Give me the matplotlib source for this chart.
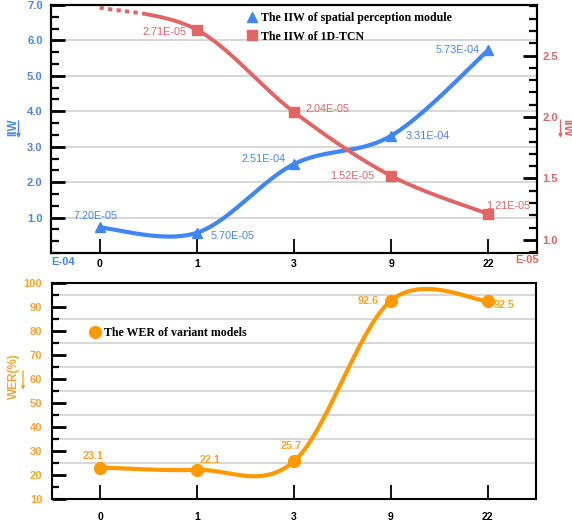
import numpy as np
import matplotlib
matplotlib.use("Agg")
import matplotlib.pyplot as plt
from matplotlib.ticker import MultipleLocator, FixedLocator
from matplotlib.lines import Line2D
from matplotlib.patches import FancyArrowPatch

# ---------------- data ----------------
categories = ["0", "1", "3", "9", "22"]
iiw_spatial = [0.72, 0.57, 2.51, 3.31, 5.73]          # x E-04
iiw_spatial_labels = ["7.20E-05", "5.70E-05", "2.51E-04", "3.31E-04", "5.73E-04"]
iiw_tcn = [2.89, 2.71, 2.04, 1.52, 1.21]               # x E-05 (first point off-scale, no marker)
iiw_tcn_labels = ["", "2.71E-05", "2.04E-05", "1.52E-05", "1.21E-05"]
wer = [23.1, 22.1, 25.7, 92.6, 92.5]
wer_labels = ["23.1", "22.1", "25.7", "92.6", "92.5"]

BLUE = "#4285f4"
BLUE_T = "#4a86e8"
RED = "#e06666"
ORANGE = "#ff9900"
ORANGE_T = "#f7a434"
GRID = "#d4d4d4"

plt.rcParams['font.family'] = ['Liberation Sans', 'DejaVu Sans']
SERIF = ['Liberation Serif', 'DejaVu Serif']

W, H = 572, 524
fig = plt.figure(figsize=(W / 100, H / 100), dpi=100)


def fx(px):
    return px / W


def fy(py):
    return 1 - py / H


def smooth(xs, ys, n=60):
    pts = np.column_stack([xs, ys]).astype(float)
    out = []
    m = len(pts)
    for i in range(m - 1):
        p0 = pts[i - 1] if i > 0 else pts[i]
        p1 = pts[i]
        p2 = pts[i + 1]
        p3 = pts[i + 2] if i + 2 < m else pts[i + 1]
        c1 = p1 + (p2 - p0) / 6
        c2 = p2 - (p3 - p1) / 6
        t = np.linspace(0, 1, n)[:, None]
        seg = (1 - t) ** 3 * p1 + 3 * (1 - t) ** 2 * t * c1 + 3 * (1 - t) * t ** 2 * c2 + t ** 3 * p2
        out.append(seg if i == 0 else seg[1:])
    out = np.vstack(out)
    return out[:, 0], out[:, 1]


def arrow(xp, y0, y1, color):
    fig.add_artist(FancyArrowPatch((fx(xp), fy(y0)), (fx(xp), fy(y1)),
                                   transform=fig.transFigure, arrowstyle='-|>',
                                   mutation_scale=5, color=color, lw=1,
                                   shrinkA=0, shrinkB=0))


x = np.arange(len(categories))

# ---------------- top panel ----------------
ax = fig.add_axes([fx(51), fy(253), fx(537) - fx(51), fy(5) - fy(253)])
ax2 = ax.twinx()
ax.set_xlim(-0.5, 4.5)
ax.set_ylim(0, 7)
ax2.set_ylim(0.893, 2.911)

ax.yaxis.set_major_locator(FixedLocator([1, 2, 3, 4, 5, 6, 7]))
ax.yaxis.set_minor_locator(MultipleLocator(1 / 3))
ax.set_yticklabels(["1.0", "2.0", "3.0", "4.0", "5.0", "6.0", "7.0"])
ax.yaxis.grid(True, which='major', color=GRID, lw=1.3)
ax.set_axisbelow(True)
ax.set_xticks(x)
ax.set_xticklabels(categories, fontweight='bold', fontsize=7.5)
ax.tick_params(axis='x', direction='in', length=10, width=1.3, pad=4, colors='black')
ax.tick_params(axis='y', which='major', direction='in', length=10, width=2, pad=6,
               labelcolor=BLUE_T, labelsize=8)
ax.tick_params(axis='y', which='minor', direction='in', length=6, width=1.6)
for lab in ax.get_yticklabels():
    lab.set_fontweight('bold')

ax2.yaxis.set_major_locator(FixedLocator([1.0, 1.5, 2.0, 2.5]))
ax2.yaxis.set_minor_locator(MultipleLocator(0.1))
ax2.set_yticklabels(["1.0", "1.5", "2.0", "2.5"])
ax2.tick_params(axis='y', which='major', direction='in', length=10, width=2, pad=4,
                labelcolor=RED, labelsize=8)
ax2.tick_params(axis='y', which='minor', direction='in', length=6, width=1.6)
for lab in ax2.get_yticklabels():
    lab.set_fontweight('bold')

for a in (ax, ax2):
    for s in a.spines.values():
        s.set_linewidth(1.5)

# blue series
bx, by = smooth(x, iiw_spatial)
ax.plot(bx, by, color=BLUE, lw=3, solid_capstyle='round', zorder=3)
ax.plot(x, iiw_spatial, ls='none', marker='^', ms=7, color=BLUE, zorder=4)

# red series
rx, ry = smooth(x, iiw_tcn)
dot = rx <= 0.47
ax2.plot(rx[dot], ry[dot], color=RED, lw=2.8, ls=(0, (1.1, 1.1)), clip_on=False, zorder=3)
ax2.plot(rx[~dot], ry[~dot], color=RED, lw=2.8, zorder=3)
ax2.plot(x[1:], iiw_tcn[1:], ls='none', marker='s', ms=6.5, color=RED, zorder=4)

# data labels (offsets in points)
blue_off = [(-3, 8), (26, -2), (-22, 4), (26, 0), (-22, 0)]
for xi, yi, t, o in zip(x, iiw_spatial, iiw_spatial_labels, blue_off):
    ax.annotate(t, (xi, yi), xytext=o, textcoords='offset points', ha='center', va='center',
                color=BLUE_T, fontsize=7.8, zorder=5)
red_off = [(0, 0), (-23, -2), (24, 2), (-28, 0), (14, 6)]
for xi, yi, t, o in zip(x, iiw_tcn, iiw_tcn_labels, red_off):
    if t:
        ax2.annotate(t, (xi, yi), xytext=o, textcoords='offset points', ha='center', va='center',
                     color=RED, fontsize=7.8, zorder=5)

handles = [Line2D([], [], ls='none', marker='^', ms=7, color=BLUE),
           Line2D([], [], ls='none', marker='s', ms=6.5, color=RED)]
ax2.legend(handles, ["The IIW of spatial perception module", "The IIW of 1D-TCN"],
           loc='upper left', bbox_to_anchor=(fx(247), fy(12)), bbox_transform=fig.transFigure,
           frameon=False, handlelength=0.8, handletextpad=0.35, labelspacing=0.55,
           borderaxespad=0, borderpad=0,
           prop={'family': SERIF, 'weight': 'bold', 'size': 8.6})

fig.text(fx(63), fy(262), "E-04", color=BLUE_T, fontweight='bold', fontsize=8, ha='center', va='center')
fig.text(fx(527), fy(260), "E-05", color=RED, fontweight='bold', fontsize=8, ha='center', va='center')

# axis labels with arrows
fig.text(fx(13), fy(127), "IIW", color=BLUE_T, fontweight='bold', fontsize=8.5,
         rotation=90, ha='center', va='center')
arrow(18.5, 121, 138, BLUE_T)
fig.text(fx(566), fy(128), "IIW", color=RED, fontweight='bold', fontsize=8.5,
         rotation=-90, ha='center', va='center')
arrow(560.5, 120, 138, RED)

# ---------------- bottom panel ----------------
bx_ax = fig.add_axes([fx(52), fy(499), fx(536) - fx(52), fy(283) - fy(499)])
bx_ax.set_xlim(-0.5, 4.5)
bx_ax.set_ylim(10, 99)
bx_ax.yaxis.set_minor_locator(MultipleLocator(5))
bx_ax.set_yticks(np.arange(10, 101, 10))
bx_ax.set_yticklabels([str(v) for v in range(10, 101, 10)])
for gv in np.arange(25, 100, 10):
    bx_ax.axhline(gv, color=GRID, lw=1.3, zorder=0)
bx_ax.set_xticks(x)
bx_ax.set_xticklabels(categories, fontweight='bold', fontsize=7.5)
bx_ax.tick_params(axis='x', direction='in', length=10, width=1.3, pad=9)
bx_ax.tick_params(axis='y', which='major', direction='in', length=10, width=2, pad=7,
                  labelcolor=ORANGE_T, labelsize=8)
bx_ax.tick_params(axis='y', which='minor', direction='in', length=5, width=1.6)
for lab in bx_ax.get_yticklabels():
    lab.set_fontweight('bold')
for s in bx_ax.spines.values():
    s.set_linewidth(1.5)

ox, oy = smooth(x, wer)
bx_ax.plot(ox, oy, color=ORANGE, lw=3, zorder=3)
bx_ax.plot(x, wer, ls='none', marker='o', ms=8.5, color=ORANGE, zorder=4)
wer_off = [(-5, 8), (9, 7), (-2, 11), (-16, 0), (12, -3)]
for xi, yi, t, o in zip(x, wer, wer_labels, wer_off):
    bx_ax.annotate(t, (xi, yi), xytext=o, textcoords='offset points', ha='center', va='center',
                   color=ORANGE_T, fontsize=7.8, fontweight='bold', zorder=5)

bx_ax.legend([Line2D([], [], ls='none', marker='o', ms=8.5, color=ORANGE)],
             ["The WER of variant models"], loc='upper left',
             bbox_to_anchor=(fx(90), fy(327)), bbox_transform=fig.transFigure,
             frameon=False, handlelength=0.8, handletextpad=0.35, borderaxespad=0, borderpad=0,
             prop={'family': SERIF, 'weight': 'bold', 'size': 8.6})

fig.text(fx(14), fy(376), "WER(%)", color=ORANGE_T, fontweight='bold', fontsize=8.5,
         rotation=90, ha='center', va='center')
arrow(23, 371, 390, ORANGE_T)

fig.savefig("out.png", dpi=100)
